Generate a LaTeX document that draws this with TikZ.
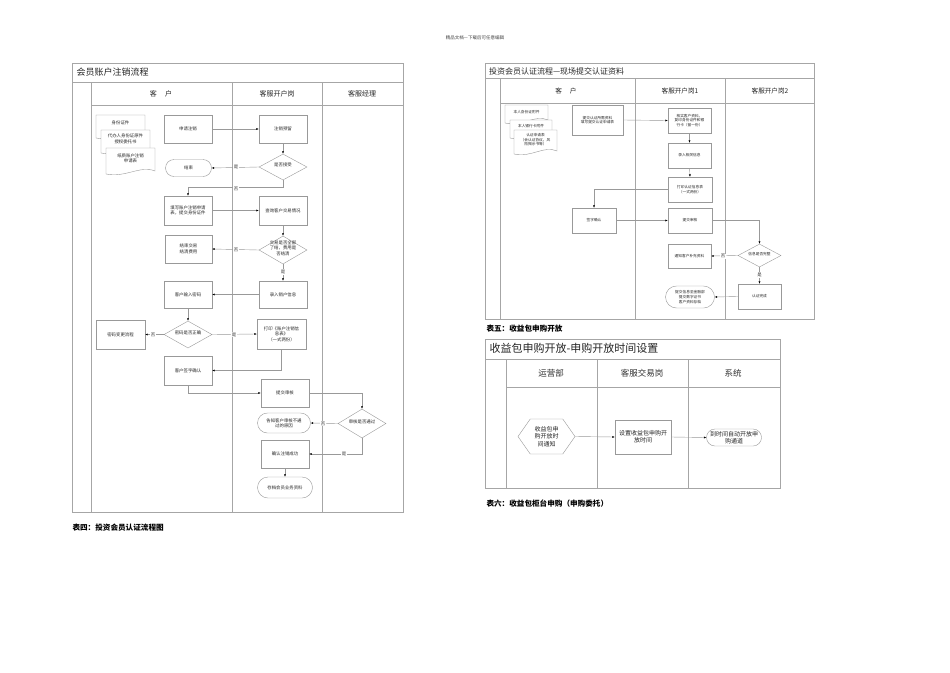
\documentclass[tikz,border=0pt]{standalone}
\usepackage{fontspec}
\setmainfont{Noto Sans CJK SC}
\usetikzlibrary{shapes.geometric,shapes.symbols,shapes.misc,arrows.meta}
\newcommand{\zt}[1]{\makebox[0pt][c]{\smash{\begin{tabular}{@{}c@{}}#1\end{tabular}}}}
\newcommand{\docshape}[4]{\filldraw[draw=black!40, fill=white, line width=0.4pt] (#1,#2) -- (#3,#2) -- (#3,{#4-3}) .. controls ({#3-0.3*(#3-#1)},{#4-9}) and ({#1+0.4*(#3-#1)},{#4+4}) .. (#1,#4) -- cycle;}
\begin{document}
\begin{tikzpicture}[x=1pt,y=-1pt,
  frame/.style={draw=black!35, line width=0.6pt},
  box/.style={draw=black!40, line width=0.4pt, fill=white, text=black!85, align=center, inner sep=0.5pt},
  sz/.style 2 args={minimum width=#1, minimum height=#2},
  pbox/.style={box, rectangle},
  term/.style={box, rounded rectangle},
  dia/.style={box, diamond, inner sep=0pt},
  doctext/.style={align=center, text=black!85, inner sep=0pt},
  hexa/.style={box, signal, signal to=west and east, signal pointer angle=110},
  conn/.style={draw=black!40, line width=0.4pt, -{Latex[length=2.4pt,width=2pt,color=black]}},
  yn/.style={fill=white, inner sep=0.6pt, text=black!80},
  fa/.style={font=\fontsize{4.4}{5.4}\selectfont},
  fb/.style={font=\fontsize{3.7}{4.6}\selectfont},
  fc/.style={font=\fontsize{6}{7.2}\selectfont},
  captxt/.style={anchor=west, font=\fontsize{7.6}{9}\selectfont\bfseries, text=black}
]
\useasboundingbox (0,0) rectangle (950,672);
\fill[white] (0,0) rectangle (950,672);

\node[font=\fontsize{4.5}{5}\selectfont, text=black!75] (note) at (475,38) {精品文档---下载后可任意编辑};

% ================= LEFT DIAGRAM =================
\draw[frame] (72,63) rectangle (403,512);
\draw[frame] (72,82) -- (403,82);
\draw[frame] (91,105) -- (403,105);
\draw[frame] (91,82) -- (91,512);
\draw[frame, line width=1pt] (232,82) -- (232,512);
\draw[frame] (322,82) -- (322,512);
\node[anchor=west, font=\fontsize{9}{10}\selectfont, text=black!85] (ltitle) at (73,72.5) {会员账户注销流程};
\node[font=\fontsize{7}{8}\selectfont, text=black!85] (lh1) at (161,94) {客\hspace{1.2em}户};
\node[font=\fontsize{7}{8}\selectfont, text=black!85] (lh2) at (277,94) {客服开户岗};
\node[font=\fontsize{7}{8}\selectfont, text=black!85] (lh3) at (362,94) {客服经理};

\begin{scope}[fa]
\docshape{96}{115}{145}{138}
\node[doctext] (d1) at (120.5,123) {身份证件};
\docshape{101}{130}{150}{153}
\node[doctext] (d2) at (125.5,139) {代办人身份证原件\\授权委托书};
\docshape{106}{148}{155}{174}
\node[doctext] (d3) at (130.5,158.5) {纸质账户注销\\申请表};

\node[pbox, sz={48}{28}] (a1) at (188,129) {申请注销};
\node[pbox, sz={48}{28}] (b1) at (283,129) {注销预留};
\node[dia, sz={48}{26}] (q1) at (283,167) {\zt{是否接受}};
\node[term, sz={47}{17}] (e1) at (188.5,168) {结束};
\node[pbox, sz={48}{29}] (a2) at (188,210.5) {填写账户注销申请\\表，提交身份证件};
\node[pbox, sz={48}{29}] (b2) at (283,210.5) {查询客户交易情况};
\node[dia, sz={48}{28}] (q2) at (283,250) {\zt{交易是否全部\\了结，费用是\\否结清}};
\node[pbox, sz={47}{28}] (a3) at (188.5,249) {结束交易\\结清费用};
\node[pbox, sz={48}{27}] (b3) at (283,294.5) {录入销户信息};
\node[pbox, sz={48}{27}] (a4) at (188,294.5) {客户输入密码};
\node[dia, sz={48}{27}] (q3) at (188,334.5) {\zt{密码是否正确}};
\node[pbox, sz={49}{29}] (x1) at (120.5,334.5) {密码变更流程};
\node[pbox, sz={49}{30}] (b4) at (281.5,334) {打印《账户注销信\\息表》\\（一式两份）};
\node[pbox, sz={48}{29}] (a5) at (188,370.5) {客户签字确认};
\node[pbox, sz={48}{28}] (b5) at (285,393) {提交审核};
\node[dia, sz={48}{29}] (q4) at (362,423.5) {\zt{审核是否通过}};
\node[term, sz={54}{20}] (b6) at (284,423) {告知客户审核不通\\过的原因};
\node[pbox, sz={48}{28}] (b7) at (285,454) {确认注销成功};
\node[term, sz={56}{21}] (b8) at (285,487.5) {存档会员业务资料};

\draw[conn] (a1.east) -- (b1.west);
\draw[conn] (b1.south) -- (q1.north);
\draw[conn] (q1.west) -- (e1.east);
\draw[conn] (q1.south) -- ++(0,7) -| (a2.north);
\draw[conn] (a2.east) -- (b2.west);
\draw[conn] (b2.south) -- (q2.north);
\draw[conn] (q2.west) -- (a3.east);
\draw[conn] (q2.south) -- (b3.north);
\draw[conn] (b3.west) -- (a4.east);
\draw[conn] (a4.south) -- (q3.north);
\draw[conn] (q3.west) -- (x1.east);
\draw[conn] (q3.east) -- (b4.west);
\draw[conn] (b4.south) |- (a5.east);
\draw[conn] (a5.south) |- (b5.west);
\draw[conn] (b5.east) -| (q4.north);
\draw[conn] (q4.west) -- (b6.east);
\draw[conn] (q4.south) |- (b7.east);
\draw[conn] (b7.south) -- (b8.north);

\node[yn] (l1) at (236,167) {是};
\node[yn] (l2) at (236,189) {否};
\node[yn] (l3) at (236,250) {否};
\node[yn] (l4) at (283,272) {是};
\node[yn] (l5) at (153,334.5) {否};
\node[yn] (l6) at (234,334.5) {是};
\node[yn] (l7) at (323,423.5) {否};
\node[yn] (l8) at (344,454) {是};
\end{scope}
\node[captxt] (cap4) at (69,528) {表四：投资会员认证流程图};

% ================= UPPER RIGHT DIAGRAM =================
\draw[frame] (485,63) rectangle (814,319);
\draw[frame] (485,78) -- (814,78);
\draw[frame] (500,103) -- (814,103);
\draw[frame] (500,78) -- (500,319);
\draw[frame] (635,78) -- (635,319);
\draw[frame] (725,78) -- (725,319);
\node[anchor=west, font=\fontsize{8}{9}\selectfont, text=black!85] (rtitle) at (485.5,71) {投资会员认证流程—现场提交认证资料};
\node[font=\fontsize{6.6}{8}\selectfont, text=black!85] (rh1) at (566,91) {客\hspace{1.2em}户};
\node[font=\fontsize{6.6}{8}\selectfont, text=black!85] (rh2) at (680,91) {客服开户岗1};
\node[font=\fontsize{6.6}{8}\selectfont, text=black!85] (rh3) at (770,91) {客服开户岗2};

\begin{scope}[fb]
\docshape{505}{105}{548}{123}
\node[doctext] (rd1) at (526.5,112.5) {本人身份证附件};
\docshape{510}{120}{552}{138}
\node[doctext] (rd2) at (531,126.5) {本人银行卡附件};
\docshape{514}{130}{557}{154}
\node[doctext] (rd3) at (535.5,140) {认证申请表\\（会认证协议，风\\险揭示书等）};
\node[pbox, sz={51}{30}] (r1) at (597.5,120) {提交认证所需资料\\填写提交认证申请表};
\node[pbox, sz={43}{25}] (s1) at (689.5,120.5) {核实客户资料，\\复印身份证件和银\\行卡（留一份）};
\node[pbox, sz={43}{25}] (s2) at (689.5,155.5) {录入相关信息};
\node[pbox, sz={44}{25}] (s3) at (690,189.5) {打印认证信息表\\（一式两份）};
\node[pbox, sz={44}{25}] (r2) at (594,220.5) {签字确认};
\node[pbox, sz={44}{25}] (s4) at (690,220.5) {提交审核};
\node[dia, sz={43}{23}] (t1) at (759.5,255.5) {\zt{信息是否完整}};
\node[pbox, sz={43}{24}] (s5) at (689.5,256) {通知客户补充资料};
\node[pbox, sz={43}{25}] (t2) at (759.5,296.5) {认证完成};
\node[term, sz={50}{22}] (s6) at (690,297) {提交信息至金融部\\提交数字证书\\客户资料存档};

\draw[conn] (r1.east) -- (s1.west);
\draw[conn] (s1.south) -- (s2.north);
\draw[conn] (s2.south) -- (s3.north);
\draw[conn] (s3.west) -| (r2.north);
\draw[conn] (r2.east) -- (s4.west);
\draw[conn] (s4.east) -| (t1.north);
\draw[conn] (t1.west) -- (s5.east);
\draw[conn] (t1.south) -- (t2.north);
\draw[conn] (t2.west) -- (s6.east);
\node[yn, font=\fontsize{4.4}{5}\selectfont] (m1) at (723,256) {否};
\node[yn, font=\fontsize{4.4}{5}\selectfont] (m2) at (759.5,275) {是};
\end{scope}
\node[captxt] (cap5) at (483,329) {表五：收益包申购开放};

% ================= LOWER RIGHT DIAGRAM =================
\draw[frame] (485,339) rectangle (780,488);
\draw[frame] (485,359) -- (780,359);
\draw[frame] (506,387) -- (780,387);
\draw[frame] (506,359) -- (506,488);
\draw[frame] (597,359) -- (597,488);
\draw[frame] (688,359) -- (688,488);
\node[anchor=west, font=\fontsize{11}{12}\selectfont, text=black!85] (btitle) at (486,348.5) {收益包申购开放-申购开放时间设置};
\node[font=\fontsize{8.5}{10}\selectfont, text=black!80] (bh1) at (551,373) {运营部};
\node[font=\fontsize{8.5}{10}\selectfont, text=black!80] (bh2) at (642,373) {客服交易岗};
\node[font=\fontsize{8.5}{10}\selectfont, text=black!80] (bh3) at (733,373) {系统};

\begin{scope}[fc]
\node[hexa, sz={57}{35}] (h1) at (546.5,436.5) {收益包申\\购开放时\\间通知};
\node[pbox, sz={56}{34}] (k1) at (643,437) {设置收益包申购开\\放时间};
\node[term, sz={56}{17}] (n1) at (734,437.5) {到时间自动开放申\\购通道};
\draw[conn] (h1.east) -- (k1.west);
\draw[conn] (k1.east) -- (n1.west);
\end{scope}
\node[captxt] (cap6) at (483,504) {表六：收益包柜台申购（申购委托）};
\end{tikzpicture}
\end{document}
